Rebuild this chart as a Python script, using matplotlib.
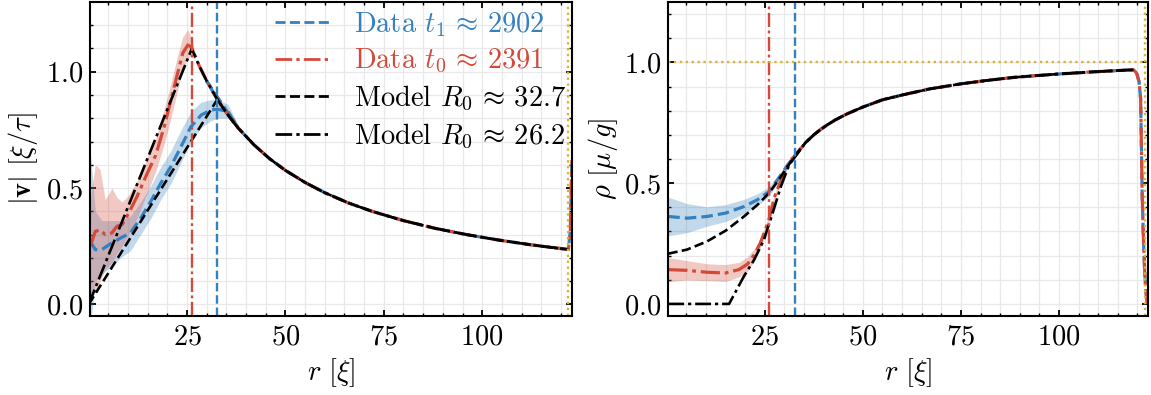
import numpy as np
import matplotlib
matplotlib.use("Agg")
import matplotlib.pyplot as plt

# ---- data ----
# shared outer branch of the velocity (data and both models coincide there)
v_out_r = [28, 30, 32.7, 35, 38, 42, 46, 50, 55, 60, 66, 72, 80, 88, 96, 104, 112, 118, 121.9]
v_out = [1.029, 0.960, 0.881, 0.823, 0.758, 0.686, 0.626, 0.576, 0.524, 0.480, 0.436,
         0.400, 0.360, 0.327, 0.300, 0.277, 0.257, 0.244, 0.236]

# model velocity, inner part
vm1_r = [0, 32.7]
vm1 = [0.0, 0.881]
vm0_r = [0, 26.2]
vm0 = [0.0, 1.099]

# data t0 (red) inner part
v0_r = [0.4, 1.7, 2.9, 4.2, 5.9, 7.2, 8.5, 10.2, 12.3, 14.9, 17.0, 19.2, 20.9, 22.6, 23.9, 25.2, 26.0, 27.0]
v0 = [0.25, 0.314, 0.32, 0.30, 0.307, 0.336, 0.343, 0.393, 0.464, 0.564, 0.64, 0.764,
      0.879, 0.993, 1.08, 1.115, 1.107, 1.07]
v0_hi = [0.45, 0.60, 0.58, 0.45, 0.50, 0.46, 0.44, 0.47, 0.53, 0.63, 0.71, 0.84, 0.95,
         1.07, 1.15, 1.18, 1.15, 1.09]
v0_lo = [0.05, 0.05, 0.10, 0.15, 0.18, 0.22, 0.25, 0.30, 0.37, 0.48, 0.57, 0.69, 0.80,
         0.92, 1.01, 1.06, 1.07, 1.05]

# data t1 (blue) inner part
v1_r = [0.4, 1.7, 3.4, 5.5, 8.1, 10.6, 13.2, 15.8, 18.3, 20.9, 23.5, 26.0, 28.6, 31.1, 32.8, 35.4, 38.0]
v1 = [0.27, 0.235, 0.236, 0.26, 0.285, 0.307, 0.37, 0.443, 0.52, 0.593, 0.679, 0.764,
      0.814, 0.836, 0.839, 0.829, 0.758]
v1_hi = [0.66, 0.40, 0.36, 0.36, 0.36, 0.38, 0.44, 0.51, 0.59, 0.66, 0.75, 0.83, 0.87,
         0.88, 0.88, 0.86, 0.77]
v1_lo = [-0.10, 0.10, 0.13, 0.16, 0.20, 0.23, 0.30, 0.37, 0.45, 0.52, 0.61, 0.70, 0.76,
         0.79, 0.80, 0.80, 0.75]

# spike of the data at the outer boundary
v_edge_r = [122.4, 122.8]
v_edge = [0.32, 0.62]

# shared outer branch of the density
rho_out_r = [32.5, 35.4, 37.5, 39.2, 41, 43, 46, 50, 55, 60.6, 67, 75, 82, 88.6, 95, 100, 108, 117, 119.0]
rho_out = [0.61, 0.668, 0.700, 0.722, 0.742, 0.762, 0.787, 0.815, 0.845, 0.867, 0.89, 0.911,
           0.926, 0.938, 0.946, 0.952, 0.96, 0.968, 0.969]
# drop of the data density at the wall
rho_drop_r = [119.8, 120.4, 120.8, 121.0, 121.2, 121.5, 121.8, 122.1, 122.5]
rho_drop = [0.955, 0.92, 0.85, 0.65, 0.45, 0.28, 0.15, 0.06, 0.0]

# model density, inner part
rm1_r = [0.4, 5.2, 10.3, 15, 19.7, 23.1, 26.1, 29.1]
rm1 = [0.208, 0.225, 0.259, 0.303, 0.362, 0.41, 0.459, 0.527]
rm0_r = [0.4, 15.9, 19.7, 22.3, 24.8, 27.0, 29.1, 31.2]
rm0 = [0.0, 0.0, 0.115, 0.183, 0.266, 0.376, 0.486, 0.575]

# data density inner parts
r1_r = [0.4, 5.2, 10.3, 15, 19.7, 23.1, 26.1, 28.5, 30.8]
r1 = [0.362, 0.355, 0.362, 0.376, 0.403, 0.431, 0.465, 0.52, 0.575]
r1_w = [0.08, 0.06, 0.04, 0.035, 0.03, 0.025, 0.02, 0.015, 0.01]
r0_r = [0.4, 5.2, 10.3, 15, 18.4, 20.6, 22.4, 23.8, 25.0, 26.1, 27.4, 29.5, 31.6]
r0 = [0.142, 0.139, 0.131, 0.128, 0.142, 0.165, 0.205, 0.250, 0.300, 0.352, 0.440, 0.527, 0.596]
r0_w = [0.05, 0.04, 0.035, 0.035, 0.03, 0.03, 0.025, 0.02, 0.02, 0.015, 0.012, 0.01, 0.01]

R0_t1 = 32.7
R0_t0 = 26.2
R_wall = 121.9
labels = [r"Data $t_1 \,\approx\, 2902$", r"Data $t_0 \,\approx\, 2391$",
          r"Model $R_0 \,\approx\, 32.7$", r"Model $R_0 \,\approx\, 26.2$"]

BLUE = "#3580be"
RED = "#d44a3a"
GOLD = "#dcb23c"

plt.rcParams.update({
    "font.family": "serif",
    "font.serif": ["cmr10"],
    "mathtext.fontset": "cm",
    "axes.formatter.use_mathtext": True,
    "font.size": 20.5,
    "axes.linewidth": 1.5,
    "xtick.direction": "in", "ytick.direction": "in",
    "xtick.top": True, "ytick.right": True,
    "xtick.major.size": 4.5, "ytick.major.size": 4.5,
    "xtick.minor.size": 2.3, "ytick.minor.size": 2.3,
    "xtick.major.width": 1.3, "ytick.major.width": 1.3,
    "xtick.minor.width": 1.0, "ytick.minor.width": 1.0,
    "xtick.minor.visible": True, "ytick.minor.visible": True,
    "xtick.major.pad": 6, "ytick.major.pad": 5,
})

DASH = (0, (3.6, 1.6))
DASHDOT = (0, (6.0, 1.5, 1.2, 1.5))

fig = plt.figure(figsize=(11.51, 3.95), dpi=100)
ax1 = fig.add_axes([0.0784, 0.2, 0.4185, 0.795])
ax2 = fig.add_axes([0.5806, 0.2, 0.4172, 0.795])


def cat(*parts):
    out = []
    for p in parts:
        out += list(p)
    return np.array(out)


# ---- left: velocity ----
ax1.fill_between(v1_r, v1_lo, v1_hi, color=BLUE, alpha=0.3, lw=0)
ax1.fill_between(v0_r, v0_lo, v0_hi, color=RED, alpha=0.3, lw=0)
ax1.plot(cat(v1_r, v_out_r[1:], v_edge_r), cat(v1, v_out[1:], v_edge), color=BLUE, lw=2.3, ls=DASH)
ax1.plot(cat(v0_r, v_out_r, v_edge_r), cat(v0, v_out, v_edge), color=RED, lw=2.3, ls=DASHDOT)
ax1.plot(cat(vm1_r, v_out_r[3:]), cat(vm1, v_out[3:]), color="black", lw=1.9, ls=DASH)
ax1.plot(cat(vm0_r, v_out_r), cat(vm0, v_out), color="black", lw=1.9, ls=DASHDOT)
ax1.axvline(R0_t1, color=BLUE, lw=1.7, ls=DASH)
ax1.axvline(R0_t0, color=RED, lw=1.7, ls=DASHDOT)
ax1.axvline(R_wall, color=GOLD, lw=1.7, ls=(0, (1, 1.5)))

ax1.set_ylim(-0.05, 1.3)
ax1.set_ylabel(r"$|\mathbf{v}|\ [\xi/\tau]$")
ax1.yaxis.set_label_coords(-0.104, 0.5)

# legend with proxy handles
h = [plt.Line2D([], [], color=BLUE, lw=2.0, ls=DASH),
     plt.Line2D([], [], color=RED, lw=2.0, ls=DASHDOT),
     plt.Line2D([], [], color="black", lw=2.0, ls=DASH),
     plt.Line2D([], [], color="black", lw=2.0, ls=DASHDOT)]
leg = ax1.legend(h, labels, loc="upper left", bbox_to_anchor=(0.384, 0.975), frameon=False,
                 borderpad=0, borderaxespad=0, handlelength=1.9, handletextpad=0.85,
                 labelspacing=0.3)
for t, c in zip(leg.get_texts(), [BLUE, RED, "black", "black"]):
    t.set_color(c)

# ---- right: density ----
ax2.fill_between(r1_r, np.array(r1) - np.array(r1_w), np.array(r1) + np.array(r1_w),
                 color=BLUE, alpha=0.3, lw=0)
ax2.fill_between(r0_r, np.array(r0) - np.array(r0_w), np.array(r0) + np.array(r0_w),
                 color=RED, alpha=0.3, lw=0)
ax2.plot(cat(r1_r, rho_out_r, rho_drop_r), cat(r1, rho_out, rho_drop), color=BLUE, lw=2.3, ls=DASH)
ax2.plot(cat(r0_r, rho_out_r, rho_drop_r), cat(r0, rho_out, rho_drop), color=RED, lw=2.3, ls=DASHDOT)
ax2.plot(cat(rm1_r, rho_out_r), cat(rm1, rho_out), color="black", lw=1.9, ls=DASH)
ax2.plot(cat(rm0_r, rho_out_r[1:]), cat(rm0, rho_out[1:]), color="black", lw=1.9, ls=DASHDOT)
ax2.axvline(R0_t1, color=BLUE, lw=1.7, ls=DASH)
ax2.axvline(R0_t0, color=RED, lw=1.7, ls=DASHDOT)
ax2.axvline(R_wall, color=GOLD, lw=1.7, ls=(0, (1, 1.5)))
ax2.axhline(1.0, color=GOLD, lw=1.7, ls=(0, (1, 1.5)))

ax2.set_ylim(-0.05, 1.25)
ax2.set_ylabel(r"$\rho\ [\mu/g]$")
ax2.yaxis.set_label_coords(-0.1, 0.5)

for ax in (ax1, ax2):
    ax.set_xlim(0.4, 122.8)
    ax.set_xticks([25, 50, 75, 100])
    ax.set_xticks(np.arange(5, 125, 5), minor=True)
    ax.set_yticks([0.0, 0.5, 1.0])
    ax.set_yticks(np.arange(0.0, 1.3, 0.1), minor=True)
    ax.set_xlabel(r"$r\ [\xi]$", labelpad=4)
    ax.grid(True, which="both", color="#e9e9e9", lw=0.9)
    ax.set_axisbelow(True)

fig.savefig("out.png", dpi=100)
